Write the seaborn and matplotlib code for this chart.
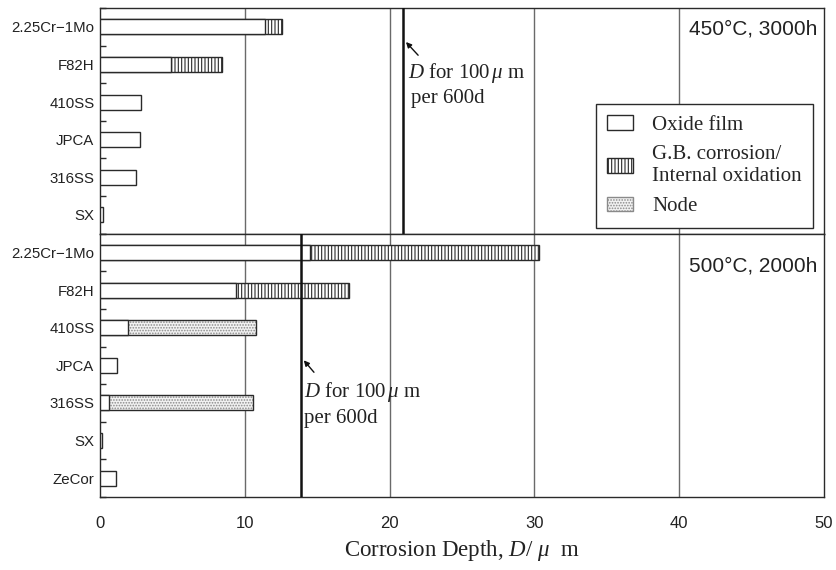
import matplotlib
matplotlib.use('Agg')
import matplotlib.pyplot as plt
import seaborn as sns
import pandas as pd
from matplotlib.patches import Patch
from matplotlib.ticker import FixedLocator

sns.set_theme(style='white')
plt.rcParams['font.family'] = ['Liberation Sans', 'DejaVu Sans']
plt.rcParams['mathtext.fontset'] = 'custom'
plt.rcParams['mathtext.rm'] = 'Liberation Serif'
plt.rcParams['mathtext.it'] = 'Liberation Serif:italic'
plt.rcParams['hatch.linewidth'] = 0.8

# ---------------- data ----------------
top_materials = ['2.25Cr\u22121Mo', 'F82H', '410SS', 'JPCA', '316SS', 'SX']
top_oxide = [11.4, 4.9, 2.8, 2.75, 2.5, 0.2]
top_gb = [1.2, 3.5, 0, 0, 0, 0]
top_node = [0, 0, 0, 0, 0, 0]
top_limit = 20.9

bottom_materials = ['2.25Cr\u22121Mo', 'F82H', '410SS', 'JPCA', '316SS', 'SX', 'ZeCor']
bottom_oxide = [14.5, 9.4, 1.9, 1.2, 0.6, 0.15, 1.1]
bottom_gb = [15.8, 7.8, 0, 0, 0, 0, 0]
bottom_node = [0, 0, 8.9, 0, 10.0, 0, 0]
bottom_limit = 13.9

x_ticks = [0, 10, 20, 30, 40, 50]
panel_labels = ['450\u00b0C, 3000h', '500\u00b0C, 2000h']
legend_labels = ['Oxide film', 'G.B. corrosion/\nInternal oxidation', 'Node']

EDGE = '#2a2a2a'
GRID = '#6a6a6a'
TEXT = '#222222'
BAR_W = 0.4

fig = plt.figure(figsize=(8.37, 5.70), dpi=100)
gs = fig.add_gridspec(2, 1, height_ratios=[6, 7], hspace=0,
                      left=100/837, right=824/837, top=1-8/570, bottom=1-497/570)
ax_top = fig.add_subplot(gs[0])
ax_bot = fig.add_subplot(gs[1], sharex=ax_top)


def draw_panel(ax, mats, oxide, gb, node, limit):
    df = pd.DataFrame({'material': mats, 'oxide': oxide, 'gb': gb, 'node': node})
    df['total'] = df['oxide'] + df['gb'] + df['node']
    for xv in x_ticks[1:-1]:
        ax.axvline(xv, color=GRID, lw=1.0, zorder=0)
    gbdf = df[df['gb'] > 0]
    if len(gbdf):
        sns.barplot(data=gbdf, x='total', y='material', order=mats, orient='h',
                    color='white', saturation=1, edgecolor=EDGE, linewidth=1.0,
                    hatch='|||||', width=BAR_W, errorbar=None, ax=ax, zorder=2)
    nodf = df[df['node'] > 0]
    if len(nodf):
        sns.barplot(data=nodf, x='total', y='material', order=mats, orient='h',
                    color='#f2f2f2', saturation=1, edgecolor='#8a8a8a', linewidth=0.0,
                    hatch='......', width=BAR_W, errorbar=None, ax=ax, zorder=2)
        sns.barplot(data=nodf, x='total', y='material', order=mats, orient='h',
                    fill=False, edgecolor=EDGE, linewidth=1.0,
                    width=BAR_W, errorbar=None, ax=ax, zorder=3)
    sns.barplot(data=df, x='oxide', y='material', order=mats, orient='h',
                color='white', saturation=1, edgecolor=EDGE, linewidth=1.0,
                width=BAR_W, errorbar=None, ax=ax, zorder=4)
    ax.axvline(limit, color='#111111', lw=1.8, zorder=5)
    ax.set_xlim(0, 50)
    ax.set_ylim(len(mats) - 0.5, -0.5)
    ax.set_ylabel('')
    ax.set_xlabel('')
    ax.tick_params(axis='y', which='major', length=0, pad=4, labelsize=10.8, colors=TEXT)
    ax.yaxis.set_minor_locator(FixedLocator([i + 0.5 for i in range(-1, len(mats))]))
    ax.tick_params(axis='y', which='minor', direction='in', length=4, width=1, color=EDGE, left=True)
    for s in ax.spines.values():
        s.set_visible(True)
        s.set_color(EDGE)
        s.set_linewidth(1.0)


draw_panel(ax_top, top_materials, top_oxide, top_gb, top_node, top_limit)
draw_panel(ax_bot, bottom_materials, bottom_oxide, bottom_gb, bottom_node, bottom_limit)

ax_top.text(0.991, 0.908, panel_labels[0], transform=ax_top.transAxes, ha='right', va='center',
            fontsize=15, color=TEXT)
ax_bot.text(0.991, 0.879, panel_labels[1], transform=ax_bot.transAxes, ha='right', va='center',
            fontsize=15, color=TEXT)

ax_top.tick_params(axis='x', labelbottom=False, length=0)
ax_bot.set_xticks(x_ticks)
ax_bot.tick_params(axis='x', length=0, pad=14, labelsize=12, colors=TEXT)
ax_bot.set_xlabel('Corrosion Depth, $D$/ $\\mu$  m', family='Liberation Serif', fontsize=16.5,
                  color=TEXT, labelpad=5)

# annotations
ann_kw = dict(arrowprops=dict(arrowstyle='-|>', color='#111111', lw=1.0, mutation_scale=8))
ax_top.annotate('', xy=(21.0, 0.35), xytext=(22.1, 0.81), **ann_kw)
ax_top.text(21.25, 1.22, '$D$ for 100$\\,\\mu$ m', family='Liberation Serif', fontsize=15,
            va='center', ha='left', color=TEXT)
ax_top.text(21.5, 1.90, 'per 600d', family='Liberation Serif', fontsize=15,
            va='center', ha='left', color=TEXT)
ax_bot.annotate('', xy=(13.95, 2.81), xytext=(14.9, 3.24), **ann_kw)
ax_bot.text(14.1, 3.70, '$D$ for 100$\\,\\mu$ m', family='Liberation Serif', fontsize=15,
            va='center', ha='left', color=TEXT)
ax_bot.text(14.1, 4.40, 'per 600d', family='Liberation Serif', fontsize=15,
            va='center', ha='left', color=TEXT)

# legend
handles = [Patch(facecolor='white', edgecolor=EDGE, lw=1.0),
           Patch(facecolor='white', edgecolor=EDGE, lw=1.0, hatch='|||||'),
           Patch(facecolor='#f2f2f2', edgecolor='#8a8a8a', lw=1.0, hatch='......')]
leg = ax_top.legend(handles, legend_labels, loc='lower right', bbox_to_anchor=(0.985, 0.027),
                    prop={'family': 'Liberation Serif', 'size': 15}, frameon=True, fancybox=False,
                    edgecolor=EDGE, framealpha=1, handlelength=1.25, handleheight=0.7,
                    borderpad=0.55, labelspacing=0.5, handletextpad=0.9, borderaxespad=0)
leg.get_frame().set_linewidth(1.0)
leg.set_zorder(10)

fig.savefig('out.png', dpi=100)
